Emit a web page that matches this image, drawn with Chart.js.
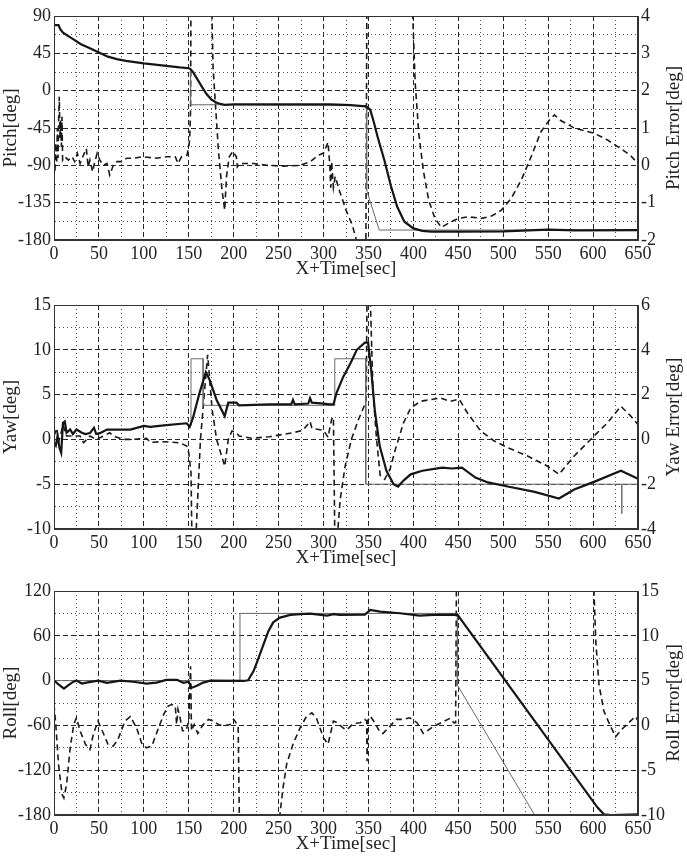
<!DOCTYPE html>
<html>
<head>
<meta charset="utf-8">
<script src="https://cdn.jsdelivr.net/npm/chart.js"></script>
<style>
  body { margin: 0; background: #fff; }
  #wrap { position: relative; width: 687px; height: 863px; }
  canvas { position: absolute; left: 0; }
</style>
</head>
<body>
<div id="wrap">
  <canvas id="pitchChart" width="687" height="280" style="top:0px"></canvas>
  <canvas id="yawChart" width="687" height="280" style="top:289px"></canvas>
  <canvas id="rollChart" width="687" height="280" style="top:575px"></canvas>
</div>
<script>
// [time, value] pairs
const pitchActual = [[0,79],[5,79],[7,74],[10,70],[20,63],[30,56],[40,51],[50,46],[60,41],[70,38],[80,36],[100,33],[120,30.5],[140,28],[150,27],[152,26],[155,22],[160,13],[165,4],[170,-4.4],[175,-10.4],[180,-14],[185,-16],[190,-17],[200,-16.5],[250,-16.5],[308,-16.5],[330,-17.5],[347,-19],[352,-23],[356,-38],[360,-55],[368,-85],[375,-115],[382,-140],[390,-158],[400,-166],[410,-169],[420,-170],[450,-170],[500,-169.5],[550,-167.5],[580,-168.5],[650,-168]];
const pitchCommand = [[152,26],[152,-17],[190,-17],[348,-18],[348,-120],[362,-168],[650,-168]];
const pitchError = [[0,0],[1,-0.2],[2,0.6],[3,0.05],[3.7,1.0],[4.5,0.2],[5.2,1.3],[5.9,1.84],[6.7,0.7],[7.4,1.2],[8.2,0.5],[8.9,1.3],[9.6,0.14],[12,0.23],[16,0.14],[20,0.23],[23,0.1],[26,0.32],[29,0.05],[32,0.23],[36,0.45],[38,-0.04],[40,0.14],[43,-0.17],[45,0.05],[48,0.32],[51,0.14],[55,0],[59,0.05],[62,-0.26],[66,0],[70,0.1],[75,0.1],[81,0.19],[88,0.19],[99,0.23],[114,0.19],[125,0.23],[135,0.23],[138,0.05],[142,0.23],[148,0.27],[150,0.5],[151,0.68],[152,1.5],[152.5,5],[165,6],[175,5],[177,2.64],[183,0.4],[187,-0.66],[190,-1.2],[192,-0.3],[195,0.23],[199,0.37],[203,0.23],[204,-0.04],[207,0.05],[222,0.05],[237,0],[255,-0.02],[274,0],[285,0.09],[294,0.27],[300,0.33],[305,0.62],[307,0],[308,-0.6],[309,0.1],[311,-0.6],[313,-0.3],[318,-0.7],[325,-1.2],[332,-1.6],[340,-2.3],[347,-3],[348.5,6],[380,6],[399,4.2],[402,2.2],[406,0.86],[411,-0.13],[417,-0.93],[424,-1.42],[431,-1.66],[439,-1.55],[450,-1.42],[461,-1.38],[476,-1.42],[487,-1.36],[498,-1.2],[509,-0.88],[520,-0.4],[531,0.23],[542,0.9],[551,1.2],[557,1.35],[564,1.2],[579,1.0],[601,0.86],[616,0.68],[630,0.46],[641,0.28],[650,0.05]];

const yawActual = [[0,-0.4],[2,-0.7],[4,0.4],[6,-0.9],[8,-1.5],[10,1.85],[12,2.0],[14,0.74],[18,1.1],[21,0.6],[25,1.1],[31,0.74],[35,0.6],[40,0.7],[44.5,1.3],[47,0.6],[51,0.7],[59,1.1],[66,1.1],[77,1.1],[85,1.1],[100,1.5],[107,1.4],[125,1.6],[147.7,1.8],[151,1.4],[154.7,2.4],[162,5.2],[169,7.5],[173,6.7],[181,4.4],[190,2.6],[194,4.1],[203,4.1],[206,3.8],[240,3.9],[264,3.9],[266,4.4],[268,3.9],[283,4.0],[285,4.6],[287,4.1],[300,4.0],[307,3.9],[311,3.9],[314.5,5.2],[322,7.0],[330,8.5],[337,10],[346,10.8],[349.6,10.8],[353,7.8],[357,3.3],[362.5,-0.74],[370,-3.5],[378,-5],[383,-5.26],[389,-4.6],[397,-3.9],[410,-3.5],[432,-3.15],[443,-3.25],[454,-3.15],[469,-4.26],[483,-4.8],[505,-5.26],[535,-5.85],[562,-6.6],[579,-5.6],[601,-4.74],[631,-3.5],[650,-4.4]];
const yawCommand = [[152.5,1.5],[152.5,9],[166,9],[166,3.8],[312.5,3.8],[312.5,9],[347,9],[347,-5],[632,-5],[632,-8.3],[632,-5],[650,-5]];
const yawError = [[0,0.15],[3,0.5],[5,-0.1],[7,0.15],[10,0.65],[14,0.15],[21,0.15],[29,0.15],[33,-0.15],[40,0.15],[47,0],[55,0.15],[62,0.3],[66,0.15],[77,0],[88,0],[103,0.05],[107,-0.13],[120,-0.1],[140,-0.15],[147.7,-0.3],[150,-0.6],[152.5,-1.5],[154,-6],[156,-6],[163,0],[171,3.78],[176,1.33],[181,0],[190,-1.2],[194,0],[198,0.37],[203,0.3],[206,0.15],[220,0.05],[240,0.12],[266,0.3],[277,0.4],[285,0.8],[287,0.5],[300,0.4],[305,0.1],[307,0.5],[309,0.9],[311,1.0],[313,-6],[316,-4],[318.5,-2.7],[324,-1.2],[331,0],[339,0.9],[346,1.56],[347.5,1.8],[348.5,7],[351.5,7],[355,2.2],[359,0],[363,-1.6],[368,-1.78],[374,-1.33],[380,-0.44],[389,0.74],[397,1.4],[408,1.7],[430,1.85],[441,1.7],[451,1.8],[460,1.19],[475,0.37],[490,-0.07],[505,-0.37],[527,-0.74],[549,-1.19],[562,-1.56],[579,-0.74],[601,0.15],[616,0.74],[631,1.48],[642,1.04],[650,0.67]];

const rollActual = [[0,0],[5,-5],[11,-10.7],[15,-7],[20,-2.7],[25,0],[31,-4],[36,-2.7],[49,0],[59,-3],[74,0],[88,-1.5],[103,-4],[114,-2.7],[125,1],[137,1],[144,-3],[150,-1.5],[153,-9.8],[159,-7],[166,-2.7],[174,0],[211,-0.5],[216,0.4],[222,12.4],[227,28],[233,48],[238.5,65.8],[244,78],[251.5,84.4],[263,88],[274,88.9],[285,89.8],[297,88],[304,87],[311,89],[318,88],[346,88.4],[352,94.7],[363,92.4],[385,90.2],[407,87],[422,88],[449,88.4],[605,-170],[612,-179],[620,-180],[650,-179]];
const rollCommand = [[0,0],[207,0],[207,90],[449,90],[449,-6],[535,-180]];
const rollError = [[0,2.33],[2,0.1],[5,-4.3],[9,-7.7],[11,-8.1],[14,-6.6],[18,-2.5],[22,0.1],[25,0.85],[29,-0.6],[35,-2.1],[40,-2.7],[44,-0.9],[49,0.48],[55,-0.9],[60,-2.1],[66,-2.3],[71,-1.6],[79,0.48],[85,1.0],[92,-0.3],[98,-2.1],[103,-2.5],[109,-2.3],[114,-0.9],[122,1.2],[127,2.15],[131,2.33],[135,2.15],[136.5,0.1],[138,1.8],[140,1.0],[143,-0.6],[147,-0.6],[150,0.5],[152,6.6],[153,-0.6],[156,0.1],[160,-0.9],[166,0.1],[172,0.66],[177,0.5],[183,0.1],[188,-0.07],[196,0.1],[200,0.67],[205,-0.07],[206.5,-12],[230,-12],[251.5,-9.9],[255,-6.9],[259,-4.3],[266,-2.1],[274,-0.26],[281,1.0],[287,1.4],[292,0.85],[300,-1.4],[305,-2.1],[311,0.48],[315,0.3],[322,-0.3],[326,-0.5],[333,0.2],[341,0.3],[346,0.67],[348,0.5],[348.5,-4],[349,0.5],[352,1.04],[357,0.3],[363,-0.8],[366,-0.9],[372,-0.3],[381,0.67],[389,0.67],[396,0.85],[404,0.3],[411,-0.9],[422,-0.15],[433,0.4],[441,0.8],[445,0.3],[447,0.3],[448,17],[590,17],[601,14.9],[603,9.4],[606.5,4.6],[612,1.6],[617.6,0.3],[625,-1.26],[632,-0.44],[641.6,0.48],[647,1.0],[650,0.5]];

// axis ticks: [min, max, grid step, label step]
const timeTicks = [0, 650, 25, 50];
const pitchTicks = [-180, 90, 22.5, 45];
const pitchErrTicks = [-2, 4, 1, 1];
const yawTicks = [-10, 15, 2.5, 5];
const yawErrTicks = [-4, 6, 2, 2];
const rollTicks = [-180, 120, 30, 60];
const rollErrTicks = [-10, 15, 5, 5];

const FONT = '"Liberation Serif", "Times New Roman", serif';

function isMult(v, step) {
  const q = v / step;
  return Math.abs(q - Math.round(q)) < 1e-6;
}

function pts(arr) {
  return arr.map(([x, y]) => ({ x, y }));
}

function gridOpts(labelStep) {
  return {
    grid: {
      drawTicks: false,
      lineWidth: 1,
      color: (c) => (c.tick && isMult(c.tick.value, labelStep)) ? '#262626' : '#555'
    },
    border: {
      display: true,
      color: '#333',
      width: 1,
      dash: (c) => c.tick ? (isMult(c.tick.value, labelStep) ? [5, 3] : [1, 3]) : []
    }
  };
}

// frame around plot + right axis title drawn bottom-to-top like the left one
const framePlugin = {
  id: 'frame',
  afterDraw(chart, args, opts) {
    const { ctx, chartArea: a } = chart;
    ctx.save();
    ctx.strokeStyle = '#333';
    ctx.lineWidth = 1;
    ctx.strokeRect(a.left + 0.5, a.top + 0.5, a.right - a.left - 1, a.bottom - a.top - 1);
    ctx.font = '19px ' + FONT;
    ctx.fillStyle = '#222';
    ctx.textAlign = 'center';
    ctx.textBaseline = 'middle';
    ctx.translate(674, (a.top + a.bottom) / 2);
    ctx.rotate(-Math.PI / 2);
    ctx.fillText(opts.text, 0, 0);
    ctx.restore();
  }
};

function makeChart(id, leftTitle, rightTitle, lt, rt, actual, command, error) {
  const xg = gridOpts(timeTicks[3]);
  const yg = gridOpts(lt[3]);
  return new Chart(document.getElementById(id), {
    type: 'line',
    data: {
      datasets: [
        { data: pts(actual), borderColor: '#151515', borderWidth: 2.2, yAxisID: 'y' },
        { data: pts(command), borderColor: '#6a6a6a', borderWidth: 1, yAxisID: 'y' },
        { data: pts(error), borderColor: '#1a1a1a', borderWidth: 1.6, borderDash: [6, 4], yAxisID: 'y1' }
      ]
    },
    options: {
      responsive: false,
      animation: false,
      events: [],
      layout: { padding: { top: 16, left: 0, right: 0, bottom: 0 } },
      elements: { point: { radius: 0 }, line: { tension: 0 } },
      datasets: { line: { clip: 0 } },
      plugins: { legend: { display: false }, tooltip: { enabled: false }, frame: { text: rightTitle } },
      scales: {
        x: {
          type: 'linear',
          min: timeTicks[0], max: timeTicks[1],
          afterFit: (s) => { s.height = 40; },
          ticks: {
            stepSize: timeTicks[2], autoSkip: false, maxRotation: 0, padding: 3,
            color: '#222', font: { family: FONT, size: 18 },
            callback: (v) => isMult(v, timeTicks[3]) ? String(v) : ''
          },
          title: { display: true, text: 'X+Time[sec]', color: '#222', font: { family: FONT, size: 19 }, padding: 0 },
          grid: xg.grid, border: xg.border
        },
        y: {
          position: 'left',
          min: lt[0], max: lt[1],
          afterFit: (s) => { s.width = 54; },
          ticks: {
            stepSize: lt[2], autoSkip: false, padding: 3,
            color: '#222', font: { family: FONT, size: 18 },
            callback: (v) => isMult(v, lt[3]) ? String(v) : ''
          },
          title: { display: true, text: leftTitle, color: '#222', font: { family: FONT, size: 19 }, padding: { top: 0, bottom: 3 } },
          grid: yg.grid, border: yg.border
        },
        y1: {
          position: 'right',
          min: rt[0], max: rt[1],
          afterFit: (s) => { s.width = 49; },
          ticks: {
            stepSize: rt[2], autoSkip: false, padding: 3,
            color: '#222', font: { family: FONT, size: 18 },
            callback: (v) => isMult(v, rt[3]) ? String(v) : ''
          },
          grid: { display: false, drawTicks: false },
          border: { display: true, color: '#333', width: 1 }
        }
      }
    },
    plugins: [framePlugin]
  });
}

makeChart('pitchChart', 'Pitch[deg]', 'Pitch Error[deg]', pitchTicks, pitchErrTicks, pitchActual, pitchCommand, pitchError);
makeChart('yawChart', 'Yaw[deg]', 'Yaw Error[deg]', yawTicks, yawErrTicks, yawActual, yawCommand, yawError);
makeChart('rollChart', 'Roll[deg]', 'Roll Error[deg]', rollTicks, rollErrTicks, rollActual, rollCommand, rollError);
</script>
</body>
</html>
